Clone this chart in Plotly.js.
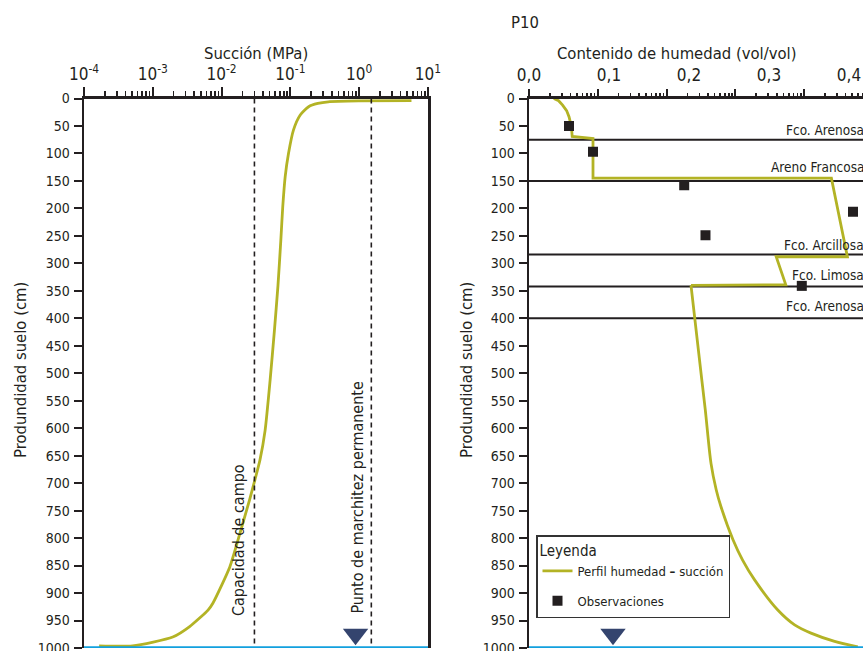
<!DOCTYPE html>
<html><head><meta charset="utf-8">
<script src="https://cdn.plot.ly/plotly-3.0.1.min.js"></script>
<style>html,body{margin:0;padding:0;background:#fff}#chart{width:863px;height:651px}</style>
</head><body><div id="chart"></div>
<script>
// ---------- data: left panel (suction profile) ----------
const suctionMPa   = [5.75, 1.0, 0.355, 0.25, 0.184, 0.139, 0.111, 0.0938, 0.084, 0.0774, 0.0726, 0.066, 0.0586, 0.0507, 0.0429, 0.0361, 0.0305, 0.0258, 0.0185, 0.0132, 0.0075, 0.00635, 0.00343, 0.00195, 0.000508, 0.000166];
const suctionDepth = [4,    4.5, 6,     9,    15,    30,    57,    100,    142,   197,    258,    340,   422,    513,    604,    658,    694,    728,    791,    852,    918,    931,     961,     980,     996,      996];
const fieldCapacityMPa = 0.03;
const wiltingPointMPa  = 1.5;
const suctionTicks    = [1e-4, 1e-3, 1e-2, 1e-1, 1, 10];
const suctionTickText = ['10<sup>-4</sup>','10<sup>-3</sup>','10<sup>-2</sup>','10<sup>-1</sup>','10<sup>0</sup>','10<sup>1</sup>'];

// ---------- data: right panel (moisture profile) ----------
// upper part (layered, sharp steps)
const moistureUpper      = [0.031, 0.037, 0.042, 0.047, 0.050, 0.053, 0.054, 0.080, 0.080, 0.378, 0.398, 0.309, 0.321, 0.2025];
const moistureUpperDepth = [0,     4,     12,    22,    33,    51,    69,    73,    145,   145,   288,   288,   339,   340];
// lower part (smooth drainage curve)
const moistureLower      = [0.2025, 0.216, 0.2204, 0.2275, 0.234, 0.24, 0.255, 0.267, 0.282, 0.311, 0.332, 0.3525, 0.382, 0.411];
const moistureLowerDepth = [340,    512,   567,    664,    712,   743,  803,   840,   876,   931,   958,   973,    988,   998];
const obsMoisture = [0.050, 0.080, 0.194, 0.2206, 0.405, 0.341];
const obsDepth    = [50,    97,    158,   249,    206,   341];
const layerDepths      = [75, 150, 284, 342, 400];
const layerLabels      = ['Fco. Arenosa', 'Areno Francosa', 'Fco. Arcillosa', 'Fco. Limosa', 'Fco. Arenosa'];
const layerLabelDepths = [57, 124, 267, 321, 378];
const moistureTicks    = [0, 0.1, 0.2, 0.3, 0.4];
const moistureTickText = ['0,0', '0,1', '0,2', '0,3', '0,4'];

// ---------- shared ----------
const depthTicks = [0,50,100,150,200,250,300,350,400,450,500,550,600,650,700,750,800,850,900,950,1000];
const waterTableDepth = 1000;
const waterMarkerDepth = 975;
const waterMarkerSuction = 0.885;
const waterMarkerMoisture = 0.105;

// ---------- layout geometry ----------
const W = 863, H = 651;
const FONT = "'Liberation Sans Narrow', 'DejaVu Sans Condensed', 'Arial Narrow', sans-serif";
const INK = '#231f20';
const OLIVE = '#b3b325';
const px = v => v / W, py = v => 1 - v / H;
const domL = [px(84), px(428)];
const domR = [px(529), 1];
const domY = [py(648), py(98.5)];

const minorLog = (lo, hi) => { const a = []; for (let e = lo; e < hi; e++) for (let m = 2; m <= 9; m++) a.push(m * Math.pow(10, e)); return a; };

const traces = [
  {x: suctionMPa, y: suctionDepth, xaxis: 'x', yaxis: 'y', mode: 'lines',
   line: {color: OLIVE, width: 2.8, shape: 'spline', smoothing: 0.6}, showlegend: false, hoverinfo: 'skip'},
  {x: [fieldCapacityMPa, fieldCapacityMPa], y: [0, waterTableDepth], xaxis: 'x', yaxis: 'y', mode: 'lines',
   line: {color: INK, width: 1.6, dash: '5px,4px'}, showlegend: false, hoverinfo: 'skip'},
  {x: [wiltingPointMPa, wiltingPointMPa], y: [0, waterTableDepth], xaxis: 'x', yaxis: 'y', mode: 'lines',
   line: {color: INK, width: 1.6, dash: '5px,4px'}, showlegend: false, hoverinfo: 'skip'},
  {x: [waterMarkerSuction], y: [waterMarkerDepth], xaxis: 'x', yaxis: 'y', mode: 'markers',
   marker: {symbol: 'triangle-down', size: 22, color: '#34446e'}, showlegend: false, hoverinfo: 'skip'},
  {x: moistureUpper, y: moistureUpperDepth, xaxis: 'x2', yaxis: 'y2', mode: 'lines', name: 'Perfil humedad <b>–</b> succión',
   legendgroup: 'a', line: {color: OLIVE, width: 2.8}, hoverinfo: 'skip'},
  {x: moistureLower, y: moistureLowerDepth, xaxis: 'x2', yaxis: 'y2', mode: 'lines', legendgroup: 'a', showlegend: false,
   line: {color: OLIVE, width: 2.8, shape: 'spline', smoothing: 0.8}, hoverinfo: 'skip'},
  {x: obsMoisture, y: obsDepth, xaxis: 'x2', yaxis: 'y2', mode: 'markers', name: 'Observaciones', legendgroup: 'b',
   marker: {symbol: 'square', size: 10, color: INK}, hoverinfo: 'skip'},
  {x: [waterMarkerMoisture], y: [waterMarkerDepth], xaxis: 'x2', yaxis: 'y2', mode: 'markers',
   marker: {symbol: 'triangle-down', size: 22, color: '#34446e'}, showlegend: false, hoverinfo: 'skip'}
];

const yCommon = {
  range: [1000, 0], autorange: false, domain: domY, tickvals: depthTicks, ticktext: depthTicks.map(String),
  ticks: 'outside', ticklen: 8, tickwidth: 2, tickcolor: INK, showline: true, linewidth: 2.5, linecolor: INK,
  showgrid: false, zeroline: false, tickfont: {size: 14, color: INK, family: FONT}, ticklabelstandoff: 1,
  ticklabeloverflow: 'allow'
};

const shapes = [];
layerDepths.forEach(d => shapes.push({type: 'line', xref: 'x2 domain', yref: 'y2', x0: 0, x1: 1, y0: d, y1: d,
  line: {color: INK, width: 2}, layer: 'below'}));
shapes.push({type: 'line', xref: 'x domain', yref: 'y', x0: 0, x1: 1, y0: waterTableDepth, y1: waterTableDepth, line: {color: '#12a0de', width: 3.5}});
shapes.push({type: 'line', xref: 'x2 domain', yref: 'y2', x0: 0, x1: 1, y0: waterTableDepth, y1: waterTableDepth, line: {color: '#12a0de', width: 3.5}});

const ann = (o) => Object.assign({showarrow: false, xanchor: 'center', yanchor: 'middle'}, o);
const annotations = [
  ann({text: 'Succión (MPa)', xref: 'paper', yref: 'paper', x: px(256), y: py(54), font: {size: 16.5, color: INK, family: FONT}}),
  ann({text: 'Contenido de humedad (vol/vol)', xref: 'paper', yref: 'paper', x: px(676), y: py(54), font: {size: 16.5, color: INK, family: FONT}}),
  ann({text: 'P10', xref: 'paper', yref: 'paper', x: px(525), y: py(22), font: {size: 16.5, color: INK, family: FONT}}),
  ann({text: 'Produndidad suelo (cm)', xref: 'paper', yref: 'paper', x: px(20), y: py(370), textangle: -90, font: {size: 16.5, color: INK, family: FONT}}),
  ann({text: 'Produndidad suelo (cm)', xref: 'paper', yref: 'paper', x: px(466), y: py(370), textangle: -90, font: {size: 16.5, color: INK, family: FONT}}),
  ann({text: 'Capacidad de campo', xref: 'x', yref: 'y', x: Math.log10(0.0175), y: 803, textangle: -90, font: {size: 16, color: INK, family: FONT}}),
  ann({text: 'Punto de marchitez permanente', xref: 'x', yref: 'y', x: Math.log10(0.95), y: 725, textangle: -90, font: {size: 16, color: INK, family: FONT}})
];
layerLabels.forEach((t, i) => annotations.push(ann({text: t, xref: 'paper', yref: 'y2', x: px(866), xanchor: 'right', y: layerLabelDepths[i],
  font: {size: 13.5, color: INK, family: FONT}})));

const layout = {
  width: W, height: H, margin: {l: 0, r: 0, t: 0, b: 0}, paper_bgcolor: '#fff', plot_bgcolor: 'rgba(0,0,0,0)',
  font: {family: FONT, color: INK},
  xaxis: {type: 'log', range: [-4, 1], domain: domL, side: 'top', anchor: 'y', tickvals: suctionTicks, ticktext: suctionTickText,
    ticks: 'outside', ticklen: 9, tickwidth: 2, tickcolor: INK, showline: true, linewidth: 2.5, linecolor: INK, showgrid: false, zeroline: false,
    tickfont: {size: 17, color: INK, family: FONT}, ticklabelstandoff: 0,
    minor: {tickvals: minorLog(-4, 1), ticks: 'outside', ticklen: 5, tickwidth: 1.6, tickcolor: INK, showgrid: false}},
  yaxis: Object.assign({}, yCommon, {anchor: 'x', mirror: true}),
  xaxis2: {range: [0, (863 - 529) / 800], domain: domR, side: 'top', anchor: 'y2', tickvals: moistureTicks, ticktext: moistureTickText,
    ticks: '', showline: true, linewidth: 2.5, linecolor: INK, showgrid: false, zeroline: false,
    tickfont: {size: 17, color: INK, family: FONT}, ticklabelstandoff: 8},
  xaxis3: {type: 'log', overlaying: 'x2', anchor: 'y2', side: 'top', range: [0, (863 - 529) / 68.8],
    tickvals: [1, 10, 100, 1000, 10000], showticklabels: false, ticks: 'outside', ticklen: 9, tickwidth: 2, tickcolor: INK,
    showline: false, showgrid: false, zeroline: false,
    minor: {tickvals: minorLog(0, 5), ticks: 'outside', ticklen: 5, tickwidth: 1.6, tickcolor: INK, showgrid: false}},
  yaxis2: Object.assign({}, yCommon, {anchor: 'x2'}),
  shapes: shapes,
  annotations: annotations,
  showlegend: true,
  legend: {x: px(536), y: py(535), xanchor: 'left', yanchor: 'top', bgcolor: '#fff', bordercolor: '#333', borderwidth: 1.5,
    font: {size: 13, color: INK, family: FONT}, title: {text: 'Leyenda', font: {size: 15, color: INK, family: FONT}},
    itemwidth: 30, traceorder: 'grouped', tracegroupgap: 10}
};
// invisible trace to activate the overlay tick axis
traces.push({x: [1], y: [0], xaxis: 'x3', yaxis: 'y2', mode: 'markers', marker: {opacity: 0}, showlegend: false, hoverinfo: 'skip'});

Plotly.newPlot('chart', traces, layout, {staticPlot: true, displayModeBar: false});
</script></body></html>
